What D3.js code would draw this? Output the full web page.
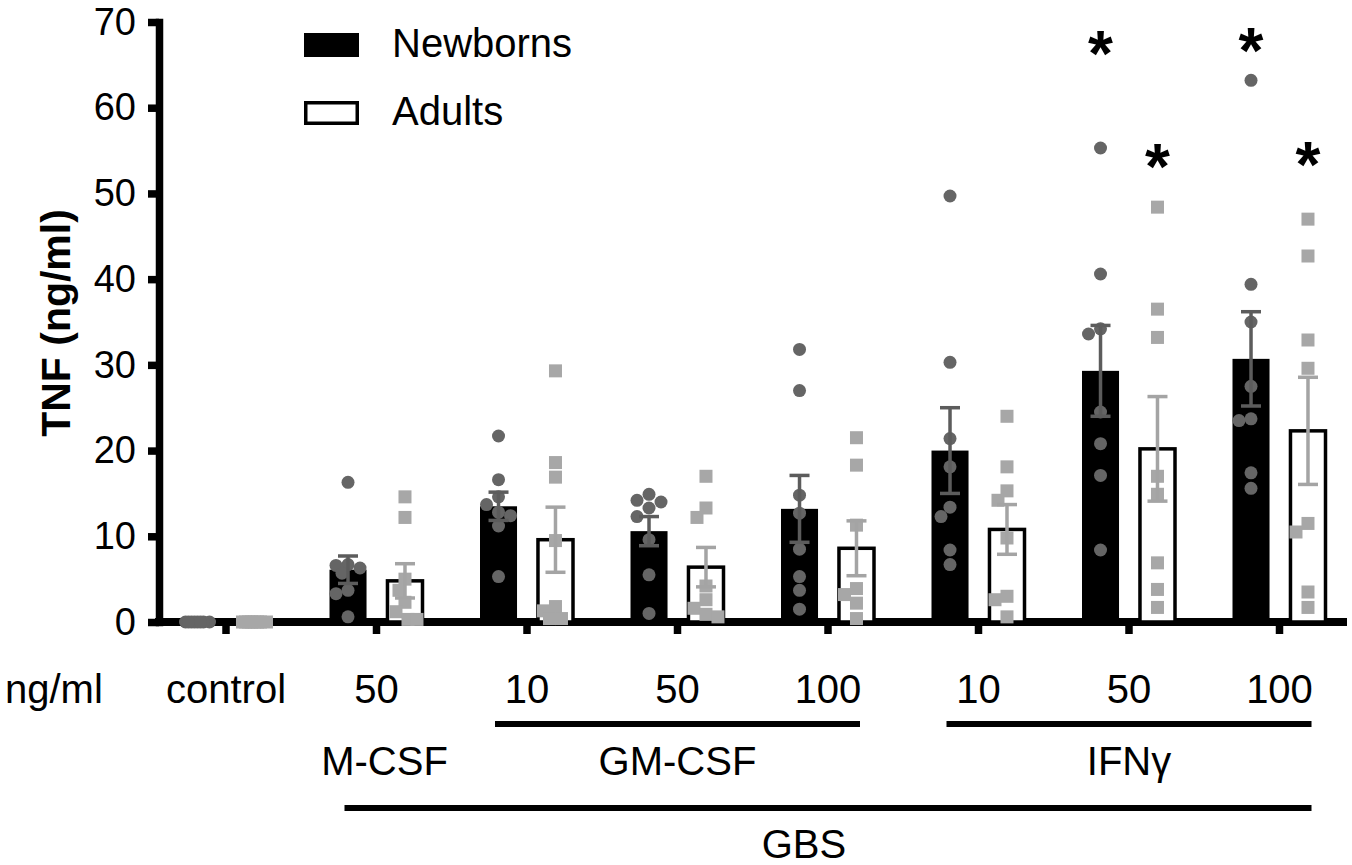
<!DOCTYPE html>
<html>
<head>
<meta charset="utf-8">
<script src="https://cdn.jsdelivr.net/npm/d3@7"></script>
<style>
  body { margin: 0; background: #fff; }
  svg { display: block; font-family: "Liberation Sans", Arial, Helvetica, sans-serif; }
</style>
</head>
<body>
<svg id="chart" width="1352" height="865"></svg>
<script>
// ---- data ----
const groupKeys  = ["ctrl", "mcsf50", "gm10", "gm50", "gm100", "ifn10", "ifn50", "ifn100"];
const doseLabels = ["control", "50", "10", "50", "100", "10", "50", "100"];
const yTicks     = [0, 10, 20, 30, 40, 50, 60, 70];

const newbornMean = [0, 6.1, 13.5, 10.6, 13.2, 20.0, 29.3, 30.7];
const newbornSem  = [0, 1.6, 1.65, 1.7, 3.9, 5.0, 5.3, 5.5];
const adultMean   = [0, 4.8, 9.6, 6.4, 8.6, 10.8, 20.2, 22.3];
const adultSem    = [0, 2.0, 3.8, 2.3, 3.2, 2.9, 6.1, 6.25];

const newbornPoints = [
  [0, 0, 0, 0, 0, 0, 0, 0],
  [16.3, 6.7, 6.6, 6.3, 5.7, 3.7, 3.3, 0.6],
  [21.7, 16.6, 14.6, 13.7, 12.8, 12.4, 11.2, 5.3],
  [14.9, 14.2, 14.0, 13.3, 12.3, 9.6, 5.5, 1.0],
  [31.8, 27.0, 14.8, 12.7, 8.5, 5.3, 3.7, 1.5],
  [49.7, 30.3, 21.4, 18.1, 13.4, 12.3, 8.4, 6.7],
  [55.3, 40.6, 34.2, 33.6, 24.5, 20.8, 17.1, 8.4],
  [63.2, 39.4, 35.0, 27.5, 23.7, 23.5, 17.4, 15.6]
];
const adultPoints = [
  [0, 0, 0, 0, 0, 0, 0, 0],
  [14.6, 12.2, 5.0, 3.7, 2.3, 1.2, 0.3, 0.3],
  [29.3, 18.6, 16.9, 9.5, 1.8, 1.3, 0.4, 0.4],
  [17.0, 13.3, 12.2, 4.2, 2.6, 1.6, 0.9, 0.6],
  [21.5, 18.3, 11.3, 3.9, 3.2, 2.2, 0.4],
  [24.0, 18.1, 15.3, 14.2, 9.8, 3.0, 2.6, 0.6],
  [48.4, 36.5, 33.2, 17.0, 14.9, 6.9, 3.8, 1.7],
  [47.0, 42.7, 32.9, 29.6, 11.5, 10.5, 3.5, 1.7]
];

// significance stars (group, height in data units)
const starGroups    = ["ifn50", "ifn100"];
const starNewbornAt = [68.0, 68.4];
const starAdultAt   = [54.8, 55.1];

// ---- layout ----
const width = 1352, height = 865;
const axisX = 159, baseY = 622, topY = 22;
const fontSize = 40;

const svg = d3.select("#chart");

const x0 = d3.scaleBand()
  .domain(groupKeys)
  .range([150.75, 150.75 + 150.5 * groupKeys.length]);

const x1 = d3.scaleBand()
  .domain(["newborn", "adult"])
  .range([-47, 47])
  .paddingInner(0.35);

const y = d3.scaleLinear()
  .domain([0, 70])
  .range([baseY, topY]);

const center = k => x0(k) + x0.bandwidth() / 2;
const barCenter = (k, s) => center(k) + x1(s) + x1.bandwidth() / 2;

// y axis
const yAxis = svg.append("g")
  .attr("transform", `translate(${axisX},0)`)
  .call(d3.axisLeft(y).tickValues(yTicks).tickSize(11).tickSizeOuter(0).tickPadding(12));
yAxis.select(".domain").attr("stroke-width", 7.5).attr("stroke-linecap", "square");
yAxis.selectAll(".tick line").attr("stroke-width", 7.5);
yAxis.selectAll(".tick text").attr("font-size", 38).attr("fill", "#000");

// x axis: long base line + ticks with dose labels
svg.append("line")
  .attr("x1", axisX - 4).attr("x2", 1347)
  .attr("y1", baseY).attr("y2", baseY)
  .attr("stroke", "#000").attr("stroke-width", 8);

const xAxis = svg.append("g")
  .attr("transform", `translate(0,${baseY})`)
  .call(d3.axisBottom(x0).tickSize(12).tickPadding(40.6)
    .tickFormat((d, i) => doseLabels[i]));
xAxis.select(".domain").remove();
xAxis.selectAll(".tick line").attr("stroke-width", 7.5);
xAxis.selectAll(".tick text").attr("font-size", fontSize).attr("fill", "#000");

svg.append("text")
  .attr("x", 5).attr("y", 703)
  .attr("font-size", fontSize)
  .text("ng/ml");

// y title
svg.append("text")
  .attr("transform", "translate(70,323) rotate(-90)")
  .attr("text-anchor", "middle")
  .attr("font-size", 41)
  .attr("font-weight", "bold")
  .text("TNF (ng/ml)");

// table used for drawing
const rows = groupKeys.map((k, i) => ({
  key: k,
  newborn: { mean: newbornMean[i], sem: newbornSem[i], pts: newbornPoints[i] },
  adult:   { mean: adultMean[i],   sem: adultSem[i],   pts: adultPoints[i] }
}));

// bars
svg.append("g").selectAll("rect")
  .data(rows.filter(r => r.newborn.mean > 0))
  .join("rect")
    .attr("x", d => center(d.key) + x1("newborn"))
    .attr("width", x1.bandwidth())
    .attr("y", d => y(d.newborn.mean))
    .attr("height", d => y(0) - y(d.newborn.mean))
    .attr("fill", "#000");

svg.append("g").selectAll("rect")
  .data(rows.filter(r => r.adult.mean > 0))
  .join("rect")
    .attr("x", d => center(d.key) + x1("adult") + 1)
    .attr("width", x1.bandwidth() - 2)
    .attr("y", d => y(d.adult.mean))
    .attr("height", d => y(0) - y(d.adult.mean))
    .attr("fill", "#fff")
    .attr("stroke", "#000")
    .attr("stroke-width", 3.5);

// simple beeswarm spread inside the bar
function swarm(values, cx) {
  const minDist = 12.5;
  const cands = [0, -3, 3, -6, 6, -9, 9, -12, 12];
  const placed = [];
  values.slice().sort((a, b) => b - a).forEach(v => {
    const py = y(v);
    let best = 0, bestD = -1;
    for (const c of cands) {
      const dd = placed.length ? d3.min(placed, q => Math.hypot(q.dx - c, q.y - py)) : Infinity;
      if (dd >= minDist) { best = c; break; }
      if (dd > bestD) { bestD = dd; best = c; }
    }
    placed.push({ dx: best, y: py });
  });
  return placed.map(p => ({ x: cx + p.dx, y: p.y }));
}

const nbPts = rows.flatMap(r => swarm(r.newborn.pts, barCenter(r.key, "newborn")));
const adPts = rows.flatMap(r => swarm(r.adult.pts, barCenter(r.key, "adult")));

svg.append("g").selectAll("circle")
  .data(nbPts)
  .join("circle")
    .attr("cx", d => d.x).attr("cy", d => d.y)
    .attr("r", 6.5)
    .attr("fill", "#656565");

svg.append("g").selectAll("rect")
  .data(adPts)
  .join("rect")
    .attr("x", d => d.x - 6.5).attr("y", d => d.y - 6.5)
    .attr("width", 13).attr("height", 13)
    .attr("fill", "#a7a7a7");

// error bars (mean +/- SEM)
function errorBars(series, color) {
  const g = svg.append("g")
    .attr("stroke", color)
    .attr("stroke-width", 3.5)
    .attr("fill", "none");
  const data = rows.filter(r => r[series].sem > 0);
  const cx = d => barCenter(d.key, series);
  g.selectAll("line.v").data(data).join("line").attr("class", "v")
    .attr("x1", cx).attr("x2", cx)
    .attr("y1", d => y(d[series].mean - d[series].sem))
    .attr("y2", d => y(d[series].mean + d[series].sem));
  [-1, 1].forEach(sign => {
    g.selectAll(`line.c${sign}`).data(data).join("line").attr("class", `c${sign}`)
      .attr("x1", d => cx(d) - 10).attr("x2", d => cx(d) + 10)
      .attr("y1", d => y(d[series].mean + sign * d[series].sem))
      .attr("y2", d => y(d[series].mean + sign * d[series].sem));
  });
}
errorBars("newborn", "#5c5c5c");
errorBars("adult", "#a4a4a4");

// stars
const starSize = 64;
function stars(series, heights) {
  svg.append("g").selectAll("text")
    .data(starGroups.map((k, i) => ({ k, v: heights[i] })))
    .join("text")
      .attr("x", d => barCenter(d.k, series))
      .attr("y", d => y(d.v) + starSize * 0.58)
      .attr("text-anchor", "middle")
      .attr("font-size", starSize)
      .attr("font-weight", "bold")
      .text("*");
}
stars("newborn", starNewbornAt);
stars("adult", starAdultAt);

// legend
const legend = svg.append("g");
legend.append("rect").attr("x", 304).attr("y", 33).attr("width", 55).attr("height", 24).attr("fill", "#000");
legend.append("rect").attr("x", 305.75).attr("y", 102.75).attr("width", 51.5).attr("height", 20.5)
  .attr("fill", "#fff").attr("stroke", "#000").attr("stroke-width", 3.5);
legend.append("text").attr("x", 392).attr("y", 57).attr("font-size", fontSize).text("Newborns");
legend.append("text").attr("x", 392).attr("y", 125).attr("font-size", fontSize).text("Adults");

// treatment brackets
const brackets = [
  { label: "GM-CSF", from: "gm10",   to: "gm100",  lineY: 724, textY: 775, dx: 0 },
  { label: "IFNγ",   from: "ifn10",  to: "ifn100", lineY: 724, textY: 775, dx: 0 },
  { label: "GBS",    from: "mcsf50", to: "ifn100", lineY: 808, textY: 858, dx: -24 }
];
const br = svg.append("g");
br.selectAll("line").data(brackets).join("line")
  .attr("x1", d => center(d.from) - 32)
  .attr("x2", d => center(d.to) + 32)
  .attr("y1", d => d.lineY).attr("y2", d => d.lineY)
  .attr("stroke", "#000").attr("stroke-width", 6);
br.selectAll("text").data(brackets).join("text")
  .attr("x", d => (center(d.from) + center(d.to)) / 2 + d.dx)
  .attr("y", d => d.textY)
  .attr("text-anchor", "middle")
  .attr("font-size", fontSize)
  .text(d => d.label);

svg.append("text")
  .attr("x", center("mcsf50") + 8).attr("y", 775)
  .attr("text-anchor", "middle")
  .attr("font-size", fontSize)
  .text("M-CSF");
</script>
</body>
</html>
